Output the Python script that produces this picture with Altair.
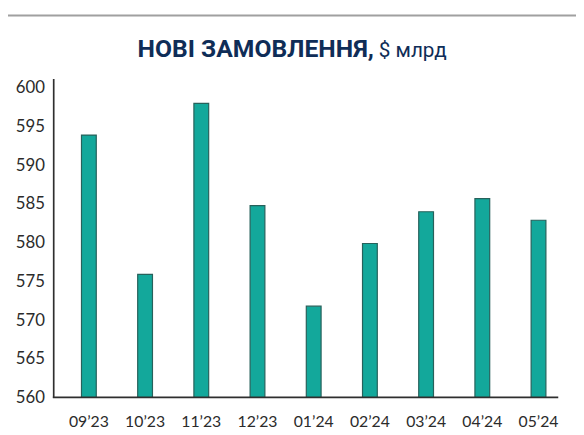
import altair as alt
import pandas as pd

months = ["09’23", "10’23", "11’23", "12’23", "01’24", "02’24", "03’24", "04’24", "05’24"]
orders = [593.9, 575.9, 598.0, 584.8, 571.8, 579.9, 584.0, 585.7, 582.9]
y_ticks = [560, 565, 570, 575, 580, 585, 590, 595, 600]
title_bold = "НОВІ ЗАМОВЛЕННЯ,"
title_rest = "$ млрд"

df = pd.DataFrame({"month": months, "value": orders})
axis_x = pd.DataFrame({"k": [0]})
axis_y = pd.DataFrame({"k": [1]})
frame = pd.DataFrame({"k": [2]})

W, H = 512, 323
TEXT = "#2b2b2b"
NAVY = "#0f2d57"

bars = alt.Chart(df).mark_bar(
    color="#13a89b", stroke="#27615b", strokeWidth=1.2
).encode(
    x=alt.X("month:N", sort=months,
            scale=alt.Scale(paddingInner=0.737, paddingOuter=0.36, align=0.695),
            axis=alt.Axis(title=None, labelAngle=0, ticks=False, domain=False,
                          labelFont="Lato", labelFontSize=16, labelColor=TEXT,
                          labelPadding=16)),
    y=alt.Y("value:Q",
            scale=alt.Scale(domain=[560, 601.15], nice=False, zero=False),
            axis=alt.Axis(title=None, values=y_ticks, ticks=False, grid=False,
                          domain=False,
                          labelFont="Lato", labelFontSize=17, labelColor=TEXT,
                          labelPadding=9)),
    y2=alt.datum(560),
)

y_line = alt.Chart(axis_y).mark_rect(color="#2f2f2f").encode(
    x=alt.value(-0.5), x2=alt.value(1.2), y=alt.value(0), y2=alt.value(H + 0.5))
x_line = alt.Chart(axis_x).mark_rect(color="#2f2f2f").encode(
    x=alt.value(-0.5), x2=alt.value(W), y=alt.value(H - 1), y2=alt.value(H + 0.7))

t1 = alt.Chart(frame).mark_text(
    font="Roboto", fontWeight="bold", fontSize=25,
    color=NAVY, align="right", baseline="alphabetic"
).encode(x=alt.value(325), y=alt.value(-22), text=alt.value(title_bold))

t2 = alt.Chart(frame).mark_text(
    font="Roboto", fontSize=21,
    color=NAVY, align="left", baseline="alphabetic"
).encode(x=alt.value(330), y=alt.value(-22), text=alt.value(title_rest))

frame_top = alt.Chart(frame).mark_rule(color="#a0a0a0", strokeWidth=2).encode(
    x=alt.value(-47.5), x2=alt.value(540), y=alt.value(-64.5))
frame_left = alt.Chart(frame).mark_rule(color="#a0a0a0", strokeWidth=2).encode(
    x=alt.value(-47.5), y=alt.value(-64.5), y2=alt.value(370))

chart = alt.layer(frame_top, frame_left, bars, y_line, x_line, t1, t2).properties(
    width=W, height=H,
    autosize=alt.AutoSizeParams(type="none"),
    padding={"left": 46, "top": 69, "right": 18, "bottom": 35},
).configure(background="white").configure_view(stroke=None, strokeWidth=0)

chart.save("out.html", embed_options={"renderer": "svg", "actions": False})
